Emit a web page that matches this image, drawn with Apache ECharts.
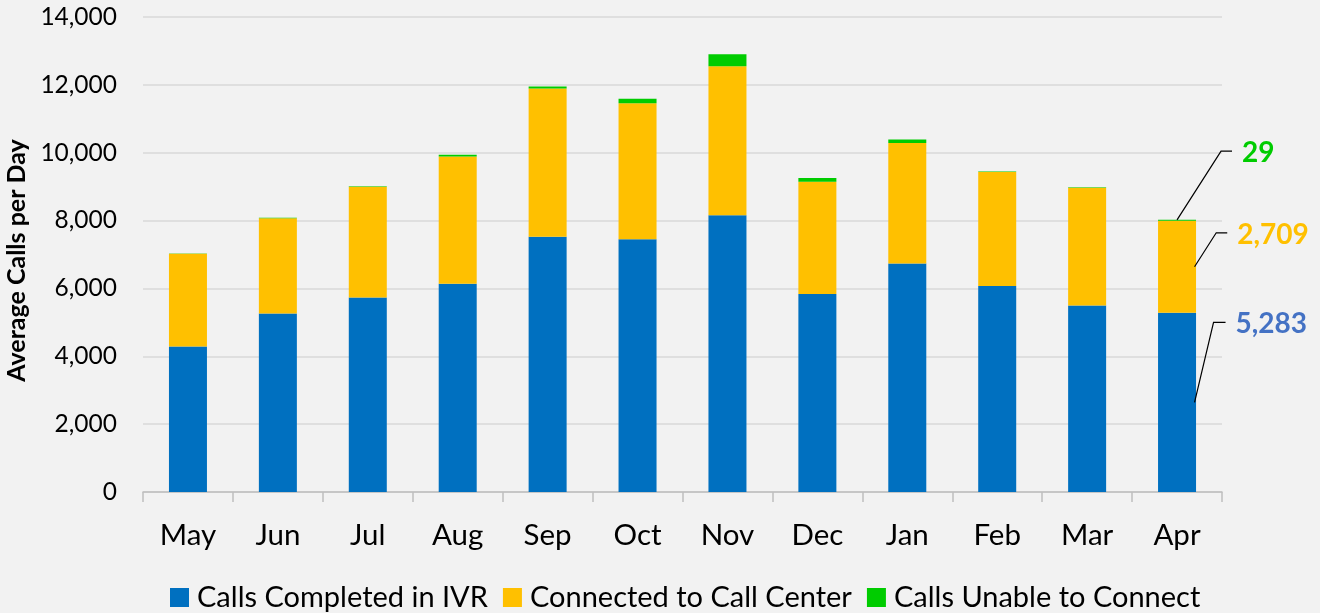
<!DOCTYPE html>
<html><head><meta charset="utf-8">
<script src="https://cdn.jsdelivr.net/npm/echarts@6/dist/echarts.min.js"></script>
<style>html,body{margin:0;padding:0;background:#F2F2F2;}#c{width:1320px;height:613px;}</style>
</head><body><div id="c"></div>
<script>
const months = ['May','Jun','Jul','Aug','Sep','Oct','Nov','Dec','Jan','Feb','Mar','Apr'];
const completedIVR = [4290, 5263, 5735, 6137, 7522, 7453, 8157, 5833, 6735, 6069, 5500, 5283];
const connectedCallCenter = [2730, 2807, 3265, 3755, 4370, 4007, 4392, 3314, 3549, 3362, 3470, 2709];
const unableToConnect = [10, 12, 15, 50, 60, 128, 353, 108, 108, 15, 15, 29];
const seriesNames = ['Calls Completed in IVR', 'Connected to Call Center', 'Calls Unable to Connect'];
const yMin = 0, yMax = 14000, yStep = 2000;
const yAxisTitle = 'Average Calls per Day';

const barColors = ['#0070C0', '#FFC000', '#00CC00'];
const labelColors = ['#4472C4', '#FFC000', '#00CC00'];
const FONT = 'Lato';

const fmt = v => Number(v).toLocaleString('en-US');

const chart = echarts.init(document.getElementById('c'), null, {renderer: 'canvas'});
const seriesData = [completedIVR, connectedCallCenter, unableToConnect];

chart.setOption({
  backgroundColor: '#F2F2F2',
  animation: false,
  textStyle: {fontFamily: FONT},
  grid: {left: 143, right: 98, top: 17, bottom: 121, containLabel: false, outerBoundsMode: 'none'},
  legend: {
    data: seriesNames,
    left: 165, top: 578,
    icon: 'rect', itemWidth: 19, itemHeight: 19, itemGap: 15,
    textStyle: {fontFamily: FONT, fontSize: 29, color: '#000', padding: [0, 0, 0, 3]}
  },
  xAxis: {
    type: 'category', data: months,
    axisLine: {lineStyle: {color: '#BFBFBF', width: 1.5}},
    axisTick: {show: true, length: 10, lineStyle: {color: '#BFBFBF', width: 1.5}},
    axisLabel: {fontFamily: FONT, fontSize: 29.5, color: '#000', margin: 28}
  },
  yAxis: {
    type: 'value', min: yMin, max: yMax, interval: yStep,
    name: yAxisTitle, nameLocation: 'middle', nameRotate: 90, nameGap: 102,
    nameTextStyle: {fontFamily: FONT, fontSize: 25, fontWeight: 'bold', color: '#000', padding: [0, 12, 0, 0]},
    axisLine: {show: false}, axisTick: {show: false},
    splitLine: {lineStyle: {color: '#D9D9D9', width: 1.5}},
    axisLabel: {fontFamily: FONT, fontSize: 24.5, color: '#000', margin: 26, formatter: v => fmt(v)}
  },
  series: seriesNames.map((n, i) => ({
    name: n, type: 'bar', stack: 'total', barWidth: 38,
    itemStyle: {color: barColors[i]},
    data: seriesData[i]
  }))
});

// Annotations for the last month, anchored through the chart's own scales
const last = months.length - 1;
const b = completedIVR[last], c = connectedCallCenter[last], u = unableToConnect[last];
const p = v => chart.convertToPixel({gridIndex: 0}, [last, v]);
const pTop = p(b + c + u), pYel = p(b + c / 2), pBlue = p(b / 2);
const cx = pTop[0];
const specs = [
  {start: [cx, pTop[1]], d: [44, -68.7], h: 11, text: fmt(u), color: labelColors[2]},
  {start: [cx + 17.5, pYel[1]], d: [21.7, -34], h: 11, text: fmt(c), color: labelColors[1]},
  {start: [cx + 17.5, pBlue[1]], d: [19, -80], h: 12, text: fmt(b), color: labelColors[0]}
];
const graphics = [];
specs.forEach(s => {
  const e = [s.start[0] + s.d[0], s.start[1] + s.d[1]];
  const f = [e[0] + s.h, e[1]];
  graphics.push({type: 'polyline', shape: {points: [s.start, e, f]}, style: {stroke: '#000', lineWidth: 1.2, fill: null}, z: 100});
  graphics.push({type: 'text', x: f[0] + 10, y: f[1] + 2, style: {text: s.text, fill: s.color, font: 'bold 28px ' + FONT, textAlign: 'left', textVerticalAlign: 'middle'}, z: 100});
});
chart.setOption({graphic: graphics});
</script></body></html>
